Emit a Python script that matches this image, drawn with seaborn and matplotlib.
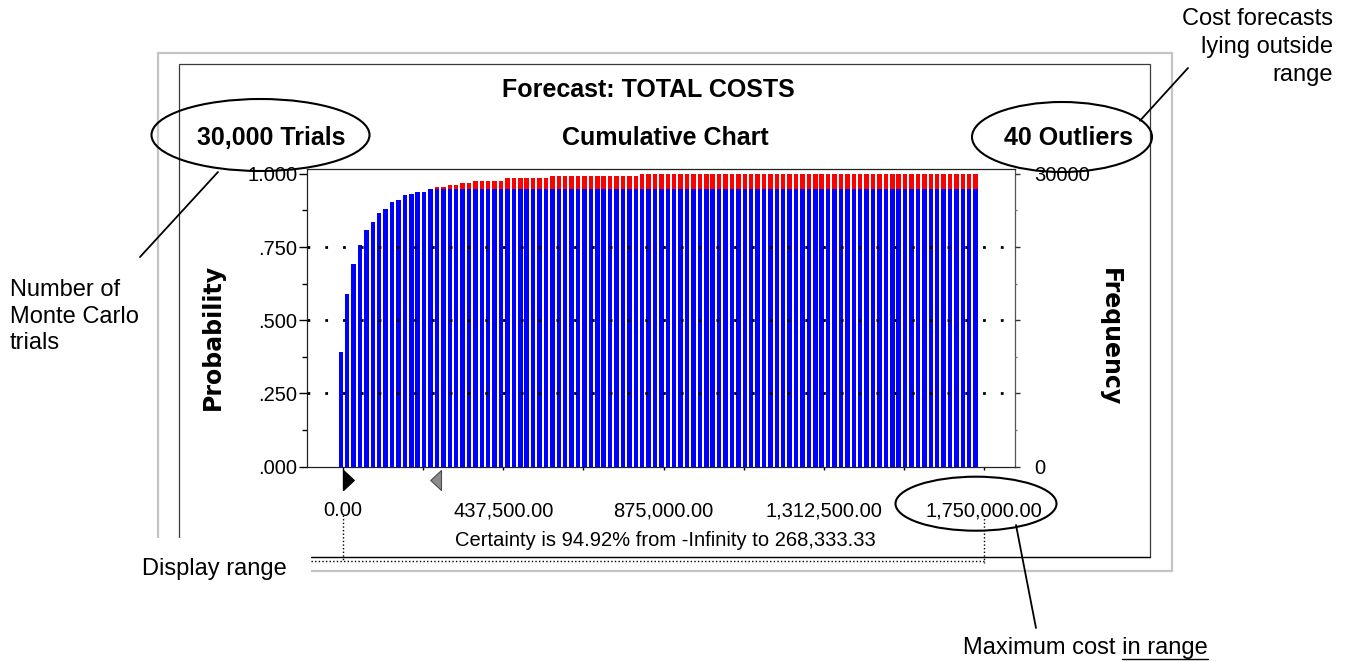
import numpy as np
import pandas as pd
import matplotlib
matplotlib.use("Agg")
import matplotlib.pyplot as plt
import seaborn as sns
from matplotlib.patches import Ellipse, Rectangle
from matplotlib.path import Path
from matplotlib import transforms

# ---- forecast data -------------------------------------------------------
trials = 30000
outliers = 40
range_min = 0.0
range_max = 1_750_000.0
n_bins = 100
certainty_pct = 94.92
certainty_upper = 268_333.33

# cumulative probability at each of the 100 bins of the display range
cum_prob = [
    0.391, 0.589, 0.691, 0.756, 0.807, 0.837, 0.866, 0.880, 0.903, 0.911,
    0.926, 0.932, 0.939, 0.939, 0.948, 0.954, 0.955, 0.962, 0.962, 0.969,
    0.969, 0.976, 0.976, 0.976, 0.976, 0.976, 0.984, 0.984, 0.984, 0.984,
    0.984, 0.984, 0.984, 0.992, 0.992, 0.992, 0.992, 0.992, 0.992, 0.992,
    0.992, 0.992, 0.992, 0.992, 0.992, 0.992, 0.992, 0.998, 0.998, 0.998,
    0.998, 0.998, 0.998, 0.998, 0.998, 0.998, 0.998, 0.998, 0.998, 0.998,
    0.998, 0.998, 0.998, 0.998, 0.998, 0.998, 0.998, 0.998, 0.998, 0.998,
    0.998, 0.998, 0.998, 0.998, 0.998, 0.9987, 0.9987, 0.9987, 0.9987, 0.9987,
    0.9987, 0.9987, 0.9987, 0.9987, 0.9987, 0.9987, 0.9987, 0.9987, 0.9987, 0.9987,
    0.9987, 0.9987, 0.9987, 0.9987, 0.9987, 0.9987, 0.9987, 0.9987, 0.9987, 0.9987,
]

x_tick_labels = ["0.00", "437,500.00", "875,000.00", "1,312,500.00", "1,750,000.00"]
prob_tick_labels = [".000", ".250", ".500", ".750", "1.000"]
freq_tick_labels = ["0", "", "", "", "30000"]

# ---- derived series ------------------------------------------------------
bin_edges = np.linspace(range_min, range_max, n_bins + 1)
bin_w = bin_edges[1] - bin_edges[0]
bar_frac = 0.7
# each bar is drawn just left of its bin's lower edge
bar_x = bin_edges[:-1] - bar_frac * bin_w / 2
cum = np.array(cum_prob)
inside = np.minimum(cum, certainty_pct / 100.0)
df = pd.DataFrame({"cost": bar_x, "cum": cum, "inside": inside})

# ---- figure ----------------------------------------------------------------
sns.set_theme(style="white")
plt.rcParams["font.family"] = ["Liberation Sans", "DejaVu Sans"]
plt.rcParams["text.color"] = "black"

W, H = 1350, 661
fig = plt.figure(figsize=(W / 100, H / 100), dpi=100)
fig.patch.set_facecolor("white")

ax_l, ax_r, ax_t, ax_b = 307.3, 1015.0, 168.5, 466.7
ax = fig.add_axes([ax_l / W, 1 - ax_b / H, (ax_r - ax_l) / W, (ax_b - ax_t) / H])
ax.set_facecolor("white")

sns.barplot(data=df, x="cost", y="cum", native_scale=True, width=bar_frac,
            color="#ff0000", saturation=1, errorbar=None, linewidth=0,
            edgecolor="none", ax=ax)
sns.barplot(data=df, x="cost", y="inside", native_scale=True, width=bar_frac,
            color="#0000ff", saturation=1, errorbar=None, linewidth=0,
            edgecolor="none", ax=ax)

y_top = 1.018
px_per_val = 641.3 / (range_max - range_min)
x_lo = range_min - (343.0 - ax_l) / px_per_val
x_hi = range_min + (ax_r - 343.0) / px_per_val
ax.set_xlim(x_lo, x_hi)
ax.set_ylim(0, y_top)
ax.set_xlabel("")
ax.set_ylabel("")

prob_ticks = np.linspace(0, 1, 5)
ax.set_yticks(prob_ticks)
ax.set_yticklabels(prob_tick_labels)
ax.set_yticks(np.linspace(0, 1, 9), minor=True)
x_ticks = np.linspace(range_min, range_max, 5)
ax.set_xticks(x_ticks)
ax.set_xticklabels(x_tick_labels)
ax.set_xticks(np.linspace(range_min, range_max, 9), minor=True)

ax.tick_params(axis="y", which="major", left=True, length=5.8, width=1,
               color="black", pad=1.2, labelsize=14.5, labelcolor="black")
ax.tick_params(axis="y", which="minor", left=True, length=3.6, width=1, color="black")
ax.tick_params(axis="x", which="both", bottom=True, length=2.2, width=1,
               color="black", pad=22.5, labelsize=14.5, labelcolor="black")

for side, sp in ax.spines.items():
    sp.set_visible(True)
    sp.set_linewidth(0.9)
    sp.set_color("#222222" if side != "right" else "#555555")

# dotted probability guides drawn over the bars
ax.hlines(prob_ticks[1:-1], x_lo, x_hi, colors="black", linewidth=2.0,
          linestyles=[(0, (1.0, 5.4))], zorder=6)

# frequency axis on the right
ax2 = ax.twinx()
ax2.set_ylim(0, y_top * trials)
ax2.set_yticks(prob_ticks * trials)
ax2.set_yticklabels(freq_tick_labels)
ax2.set_yticks(np.linspace(0, 1, 9) * trials, minor=True)
ax2.tick_params(axis="y", which="major", right=True, length=3.6, width=1,
                color="#333333", pad=10, labelsize=14.5, labelcolor="black")
ax2.tick_params(axis="y", which="minor", right=True, length=1.6, width=1, color="#777777")
ax2.grid(False)
for sp in ax2.spines.values():
    sp.set_visible(False)

# ---- decorations in pixel space ------------------------------------------
deco = fig.add_axes([0, 0, 1, 1], zorder=5)
deco.set_xlim(0, W)
deco.set_ylim(H, 0)
deco.axis("off")
deco.patch.set_alpha(0)

deco.add_patch(Rectangle((158, 53), 1014, 518, fill=False, ec="#c4c4c4", lw=1.6, zorder=1))
deco.add_patch(Rectangle((179, 64), 971, 493, fill=False, ec="#3a3a3a", lw=0.9, zorder=1))
deco.add_patch(Rectangle((120, 538), 191, 50, fc="white", ec="none", zorder=2))

bold = dict(fontsize=18, fontweight="bold", color="black", ha="center", va="center", zorder=4)
deco.text(648, 90, "Forecast: TOTAL COSTS", **bold)
deco.text(271, 138, f"{trials:,} Trials", **bold)
deco.text(665, 138, "Cumulative Chart", **bold)
deco.text(1068, 138, f"{outliers} Outliers", **bold)

fig.text(213 / W, 1 - 337 / H, "Probability", rotation=90, ha="center", va="center",
         fontsize=17, fontweight="bold", family="DejaVu Sans", color="black")
fig.text(1110 / W, 1 - 337 / H, "Frequency", rotation=270, ha="center", va="center",
         fontsize=17, fontweight="bold", family="DejaVu Sans", color="black")

deco.text(665, 540, f"Certainty is {certainty_pct:.2f}% from -Infinity to {certainty_upper:,.2f}",
          fontsize=14.5, ha="center", va="center", color="black", zorder=4)

note = dict(fontsize=17, color="black", zorder=4)
deco.text(1333, 8, "Cost forecasts\nlying outside\nrange", ha="right", va="top",
          multialignment="right", linespacing=1.36, **note)
deco.text(10, 279, "Number of\nMonte Carlo\ntrials", ha="left", va="top",
          linespacing=1.27, **note)
deco.text(142, 569, "Display range", ha="left", va="center", **note)
max_txt = deco.text(963, 648, "Maximum cost in range", ha="left", va="center", **note)

# underline the "in range" part
fig.canvas.draw()
renderer = fig.canvas.get_renderer()
inv = deco.transData.inverted()
full_bb = max_txt.get_window_extent(renderer)
tmp = deco.text(0, 0, "in range", fontsize=17)
part_w = tmp.get_window_extent(renderer).width
tmp.remove()
x_right = inv.transform((full_bb.x1, full_bb.y0))[0]
x_left = inv.transform((full_bb.x1 - part_w, full_bb.y0))[0]
deco.plot([x_left, x_right], [659, 659], color="black", lw=1.0, zorder=4)

# callout ellipses and leader lines
for (cx, cy, w, h) in [(260.5, 135, 218, 72), (1062, 137, 180, 70), (976, 503.7, 161, 54)]:
    deco.add_patch(Ellipse((cx, cy), w, h, fill=False, ec="black", lw=1.5, zorder=4))
deco.plot([140, 218], [257, 172], color="black", lw=1.3, zorder=4)
deco.plot([1140, 1188], [120.7, 68], color="black", lw=1.3, zorder=4)
deco.plot([1016, 1036], [525, 628], color="black", lw=1.3, zorder=4)

# display-range bracket and range markers tied to the cost axis
blend = transforms.blended_transform_factory(ax.transData, deco.transData)
deco.plot([range_min, range_min], [515, 561], transform=blend, color="black",
          lw=1.0, ls=(0, (1, 1.6)), zorder=4, clip_on=False)
deco.plot([range_max, range_max], [515, 563], transform=blend, color="black",
          lw=1.0, ls=(0, (1, 1.6)), zorder=4, clip_on=False)
deco.plot([311, 343 + (range_max - range_min) * px_per_val], [560.7, 560.7], color="black",
          lw=1.0, ls=(0, (1, 1.6)), zorder=4)
deco.plot([311, 1150], [557.3, 557.3], color="black", lw=0.9, zorder=3)

right_tri = Path([(0, -1), (0, 1), (1.07, 0), (0, -1)])
left_tri = Path([(0, -1), (0, 1), (-1.07, 0), (0, -1)])
deco.plot([range_min], [480], transform=blend, marker=right_tri, markersize=15.4,
          color="black", mec="black", ls="none", zorder=4, clip_on=False)
deco.plot([certainty_upper], [480], transform=blend, marker=left_tri, markersize=15.4,
          color="#8c8c8c", mec="#4a4a4a", mew=0.8, ls="none", zorder=4, clip_on=False)

fig.savefig("out.png", dpi=100, facecolor="white")
